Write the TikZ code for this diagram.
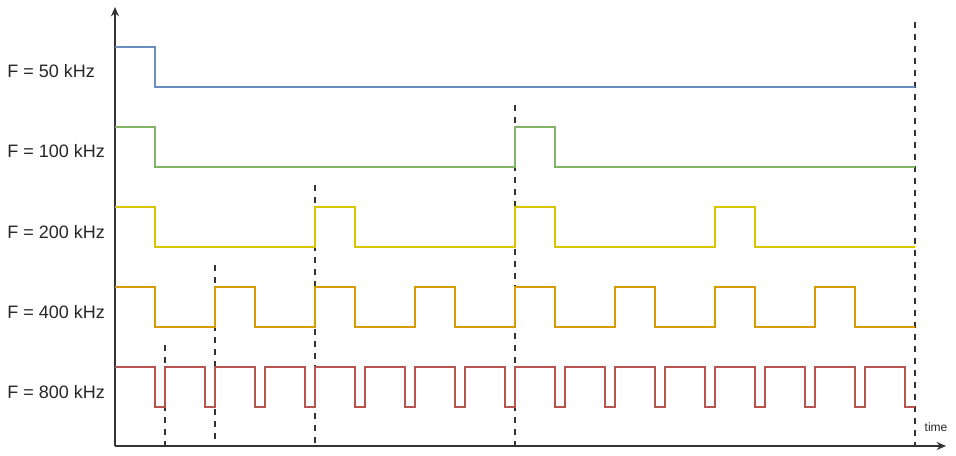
\documentclass[tikz,border=0pt]{standalone}
\usepackage{fontspec}
\setmainfont{Liberation Sans}
\usetikzlibrary{arrows.meta}
\definecolor{sigblue}{HTML}{6C8EBF}
\definecolor{siggreen}{HTML}{82B366}
\definecolor{sigyellow}{HTML}{D9C400}
\definecolor{sigorange}{HTML}{D79B00}
\definecolor{sigred}{HTML}{B85450}
\definecolor{axisgray}{HTML}{333333}
\begin{document}
\begin{tikzpicture}[
    x=0.75pt, y=-0.75pt,
    axisline/.style={draw=axisgray, line width=1.2pt, -{Stealth[length=7pt, width=6pt]}},
    wave/.style={line width=2.2pt, line join=miter},
    cutline/.style={draw=axisgray, line width=1.7pt, dash pattern=on 4.5pt off 4.5pt},
    freqlabel/.style={anchor=base west, inner sep=0pt, text=black!85,
                      font=\fontsize{13.5}{16}\selectfont},
  ]
  \useasboundingbox (0,0) rectangle (956,456);
  % axes
  \coordinate (origin) at (115,446);
  \coordinate (ytop) at (115,7);
  \coordinate (xend) at (946,446);
  \draw[axisline] (origin) -- (ytop);
  \draw[axisline] (origin) -- (xend);
  \node[anchor=base, inner sep=0pt, text=black!85, font=\fontsize{9}{11}\selectfont]
    (timelab) at (936,431) {time};
  % period markers
  \foreach \x/\top in {165/345, 215/265, 315/185, 515/105, 915/22} {
    \draw[cutline] (\x,\top) -- (\x,446);
  }
  % clock signals
  \draw[wave, sigblue] (115,47) -- (155,47) -- (155,87) -- (915,87);
  \draw[wave, siggreen] (115,127) -- (155,127) -- (155,167)
    foreach \s in {515} { -- (\s,167) -- (\s,127) -- ({\s+40},127) -- ({\s+40},167) }
    -- (915,167);
  \draw[wave, sigyellow] (115,207) -- (155,207) -- (155,247)
    foreach \s in {315,515,715} { -- (\s,247) -- (\s,207) -- ({\s+40},207) -- ({\s+40},247) }
    -- (915,247);
  \draw[wave, sigorange] (115,287) -- (155,287) -- (155,327)
    foreach \s in {215,315,...,815} { -- (\s,327) -- (\s,287) -- ({\s+40},287) -- ({\s+40},327) }
    -- (915,327);
  \draw[wave, sigred] (115,367) -- (155,367) -- (155,407)
    foreach \s in {165,215,...,865} { -- (\s,407) -- (\s,367) -- ({\s+40},367) -- ({\s+40},407) }
    -- (915,407);
  % labels
  \node[freqlabel] (f50) at (7,78) {F = 50 kHz};
  \node[freqlabel] (f100) at (7,158) {F = 100 kHz};
  \node[freqlabel] (f200) at (7,238) {F = 200 kHz};
  \node[freqlabel] (f400) at (7,318) {F = 400 kHz};
  \node[freqlabel] (f800) at (7,398) {F = 800 kHz};
\end{tikzpicture}
\end{document}
